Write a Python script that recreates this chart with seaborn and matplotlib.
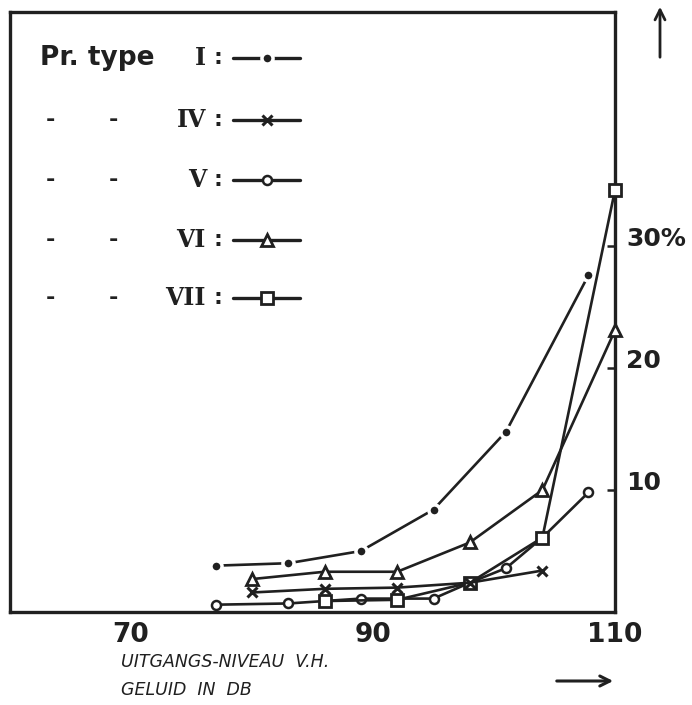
import numpy as np
import pandas as pd
import seaborn as sns
import matplotlib.pyplot as plt
from matplotlib.lines import Line2D

#############################################################################
# data: output level (dB) vs percentage
#############################################################################
type_I_db = [77, 83, 89, 95, 101, 107.8]
type_I_pct = [3.8, 4.0, 5.0, 8.4, 14.8, 27.6]

type_IV_db = [80, 86, 92, 98, 104]
type_IV_pct = [1.6, 1.9, 2.0, 2.4, 3.4]

type_V_db = [77, 83, 89, 95, 98, 101, 104, 107.8]
type_V_pct = [0.6, 0.7, 1.1, 1.1, 2.4, 3.6, 6.1, 9.8]

type_VI_db = [80, 86, 92, 98, 104, 110]
type_VI_pct = [2.7, 3.3, 3.3, 5.7, 10.0, 23.1]

type_VII_db = [86, 92, 98, 104, 110]
type_VII_pct = [0.9, 1.0, 2.4, 6.1, 34.6]

type_names = ['I', 'IV', 'V', 'VI', 'VII']
x_ticks = [70, 80, 90, 100, 110]
x_ticklabels = ['70', '', '90', '', '110']
y_ticks = [10, 20, 30]
y_ticklabels = ['10', '20', '30%']

INK = '#202020'
W, H = 692, 705

sns.set_style('white')
plt.rcParams['font.family'] = ['DejaVu Sans']

frames = []
for name, xs, ys in [('I', type_I_db, type_I_pct), ('IV', type_IV_db, type_IV_pct),
                     ('V', type_V_db, type_V_pct), ('VI', type_VI_db, type_VI_pct),
                     ('VII', type_VII_db, type_VII_pct)]:
    frames.append(pd.DataFrame({'db': xs, 'pct': ys, 'type': name}))
df = pd.concat(frames, ignore_index=True)

# marker styles per type
styles = {
    'I':   dict(marker='o', markersize=8, markerfacecolor=INK, markeredgecolor='white', markeredgewidth=2.5),
    'IV':  dict(marker='x', markersize=7, markeredgecolor=INK, markeredgewidth=2.2),
    'V':   dict(marker='o', markersize=6.5, markerfacecolor='white', markeredgecolor=INK, markeredgewidth=1.8),
    'VI':  dict(marker='^', markersize=9, markerfacecolor='white', markeredgecolor=INK, markeredgewidth=2),
    'VII': dict(marker='s', markersize=9, markerfacecolor='white', markeredgecolor=INK, markeredgewidth=2),
}
draw_order = ['I', 'VI', 'V', 'VII', 'IV']

fig = plt.figure(figsize=(W / 100, H / 100), dpi=100)
ax = fig.add_axes([10 / W, 1 - 612 / H, 605 / W, 600 / H])

for name in draw_order:
    sub = df[df['type'] == name]
    sns.lineplot(data=sub, x='db', y='pct', ax=ax, color=INK, lw=1.9,
                 estimator=None, sort=False, clip_on=False, zorder=3, **styles[name])

ax.set_xlim(60, 110)
ax.set_ylim(0, 49.2)
ax.set_xlabel('')
ax.set_ylabel('')

for sp in ax.spines.values():
    sp.set_visible(True)
    sp.set_linewidth(2.4)
    sp.set_color(INK)

ax.set_xticks(x_ticks)
ax.set_xticklabels(x_ticklabels, fontsize=19, fontweight='bold', color=INK)
ax.yaxis.tick_right()
ax.set_yticks(y_ticks)
ax.set_yticklabels(y_ticklabels, fontsize=18, fontweight='bold', color=INK)
ax.tick_params(axis='x', direction='in', length=6, width=1.8, color=INK, pad=7)
ax.tick_params(axis='y', direction='in', length=6, width=1.8, color=INK, pad=8)
for lbl in ax.get_yticklabels():
    lbl.set_va('baseline')


def fp(x, y):
    return x / W, 1 - y / H


#############################################################################
# hand written key in the upper left corner
#############################################################################
rows_y = [58, 120, 180, 240, 298]
fig.text(*fp(40, rows_y[0]), 'Pr. type', fontsize=19, fontweight='bold', color=INK, va='center')
for i, (name, yy) in enumerate(zip(type_names, rows_y)):
    if i > 0:
        fig.text(*fp(50, yy), '-', fontsize=16, fontweight='bold', color=INK, ha='center', va='center')
        fig.text(*fp(113, yy), '-', fontsize=16, fontweight='bold', color=INK, ha='center', va='center')
    fig.text(*fp(206, yy), name, fontsize=17, fontweight='bold', family='DejaVu Serif',
             color=INK, ha='right', va='center')
    fig.text(*fp(218, yy), ':', fontsize=16, fontweight='bold', color=INK, ha='center', va='center')
    x0, _ = fp(233, yy)
    x1, yf = fp(300, yy)
    glyph = Line2D([x0, (x0 + x1) / 2, x1], [yf, yf, yf], transform=fig.transFigure,
                   color=INK, lw=2.4, markevery=[1], **styles[name])
    fig.add_artist(glyph)

#############################################################################
# axis captions and arrows
#############################################################################
fig.text(*fp(121, 662), 'UITGANGS-NIVEAU  V.H.', fontsize=12.5, fontstyle='italic',
         color=INK, va='center')
fig.text(*fp(121, 690), 'GELUID  IN  DB', fontsize=12.5, fontstyle='italic',
         color=INK, va='center')

ax.annotate('', xy=fp(660, 4), xytext=fp(660, 60), xycoords='figure fraction',
            arrowprops=dict(arrowstyle='->', lw=2, color=INK, mutation_scale=18))
ax.annotate('', xy=fp(616, 681), xytext=fp(554, 681), xycoords='figure fraction',
            arrowprops=dict(arrowstyle='->', lw=2.2, color=INK, mutation_scale=18))

plt.savefig('out.png', dpi=100)
